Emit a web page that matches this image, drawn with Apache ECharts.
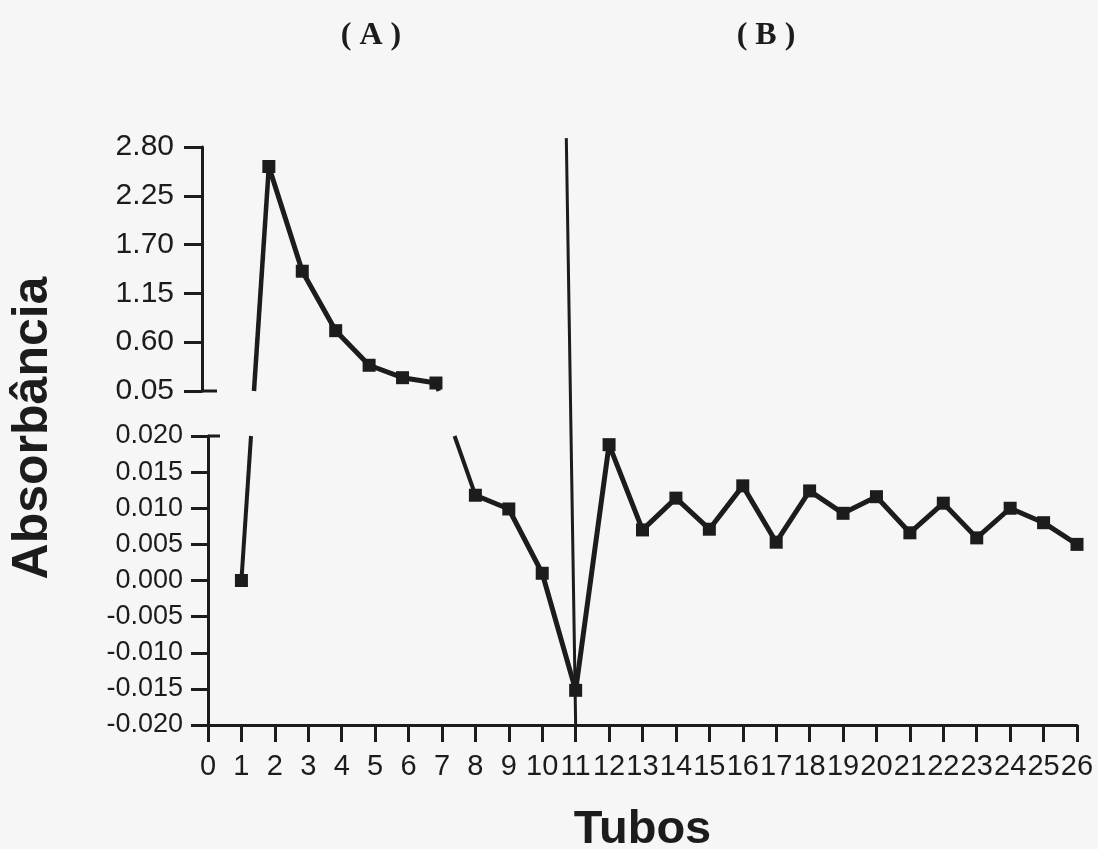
<!DOCTYPE html>
<html>
<head>
<meta charset="utf-8">
<script src="https://cdn.jsdelivr.net/npm/echarts@6/dist/echarts.min.js"></script>
<style>
html,body{margin:0;padding:0;background:#f6f6f6;}
#chart{width:1098px;height:849px;}
</style>
</head>
<body>
<div id="chart"></div>
<script>
// tubos e absorbância
var tubos = [1, 2, 3, 4, 5, 6, 7, 8, 9, 10, 11, 12, 13, 14, 15, 16, 17, 18, 19, 20, 21, 22, 23, 24, 25, 26];
var absorbancia = [0.000, 2.58, 1.40, 0.73, 0.34, 0.20, 0.14, 0.0118, 0.0099, 0.0010, -0.0152, 0.0188,
    0.0070, 0.0114, 0.0071, 0.0131, 0.0053, 0.0124, 0.0093, 0.0116, 0.0066, 0.0107, 0.0059, 0.0100, 0.0080, 0.0050];
var ticksAlto = [0.05, 0.60, 1.15, 1.70, 2.25, 2.80];
var ticksBaixo = [-0.020, -0.015, -0.010, -0.005, 0.000, 0.005, 0.010, 0.015, 0.020];
var ticksX = [0, 26];

var cor = '#1c1c1c';
var fonte = 'Liberation Sans, Arial, sans-serif';
var serifa = 'Liberation Serif, Times New Roman, serif';
var corteAlto = ticksAlto[0];
var corteBaixo = ticksBaixo[ticksBaixo.length - 1];

function pares(alto) {
    return tubos.map(function (t, i) {
        var v = absorbancia[i];
        var ok = alto ? v >= corteAlto : v <= corteBaixo;
        return [t, ok ? v : '-'];
    });
}

var chart = echarts.init(document.getElementById('chart'));
chart.setOption({
    backgroundColor: '#f6f6f6',
    animation: false,
    title: [
        {text: '( A )', left: 366, top: 15, textAlign: 'center',
            textStyle: {fontFamily: serifa, fontSize: 32, fontWeight: 'bold', color: cor}},
        {text: '( B )', left: 761, top: 15, textAlign: 'center',
            textStyle: {fontFamily: serifa, fontSize: 32, fontWeight: 'bold', color: cor}}
    ],
    grid: [
        {left: 202, top: 147, width: 869, height: 244, outerBoundsMode: 'none'},
        {left: 208, top: 436, width: 869, height: 289, outerBoundsMode: 'none'}
    ],
    xAxis: [
        {gridIndex: 0, type: 'value', min: ticksX[0], max: ticksX[1], show: false},
        {
            gridIndex: 1, type: 'value', min: ticksX[0], max: ticksX[1], interval: 1,
            axisLine: {show: true, onZero: false, lineStyle: {color: cor, width: 3}},
            axisTick: {show: true, length: 17, lineStyle: {color: cor, width: 3}},
            axisLabel: {fontFamily: fonte, fontSize: 29, color: cor, margin: 27, hideOverlap: false},
            splitLine: {show: false},
            name: 'Tubos', nameLocation: 'middle', nameGap: 82,
            nameTextStyle: {fontFamily: fonte, fontSize: 47, fontWeight: 'bold', color: cor}
        }
    ],
    yAxis: [
        {
            gridIndex: 0, type: 'value', min: ticksAlto[0], max: ticksAlto[ticksAlto.length - 1],
            interval: +(ticksAlto[1] - ticksAlto[0]).toFixed(4),
            axisLine: {show: true, onZero: false, lineStyle: {color: cor, width: 3}},
            axisTick: {show: true, length: 18, lineStyle: {color: cor, width: 3}},
            axisLabel: {fontFamily: fonte, fontSize: 30, color: cor, margin: 28,
                formatter: function (v) { return v.toFixed(2); }},
            splitLine: {show: false}
        },
        {
            gridIndex: 1, type: 'value', min: ticksBaixo[0], max: corteBaixo,
            interval: +(ticksBaixo[1] - ticksBaixo[0]).toFixed(4),
            axisLine: {show: true, onZero: false, lineStyle: {color: cor, width: 3}},
            axisTick: {show: true, length: 17, lineStyle: {color: cor, width: 3}},
            axisLabel: {fontFamily: fonte, fontSize: 27, color: cor, margin: 25,
                formatter: function (v) { return v.toFixed(3); }},
            splitLine: {show: false}
        }
    ],
    series: [
        {
            type: 'line', xAxisIndex: 0, yAxisIndex: 0, data: pares(true),
            symbol: 'rect', symbolSize: 13, connectNulls: false,
            lineStyle: {color: cor, width: 5}, itemStyle: {color: cor}
        },
        {
            type: 'line', xAxisIndex: 1, yAxisIndex: 1, data: pares(false),
            symbol: 'rect', symbolSize: 13, connectNulls: false,
            lineStyle: {color: cor, width: 5}, itemStyle: {color: cor}
        }
    ]
});

// partes da linha que atravessam a quebra do eixo
var g = [];
var yTopoBaixo = chart.convertToPixel({gridIndex: 1}, [0, corteBaixo])[1];
var yBaseAlto = chart.convertToPixel({gridIndex: 0}, [0, corteAlto])[1];
function px(i) {
    var v = absorbancia[i];
    return chart.convertToPixel({gridIndex: v >= corteAlto ? 0 : 1}, [tubos[i], v]);
}
function linha(a, b, w) {
    g.push({type: 'line', shape: {x1: a[0], y1: a[1], x2: b[0], y2: b[1]},
        style: {stroke: cor, lineWidth: w}, z: 10});
}
for (var i = 0; i < tubos.length - 1; i++) {
    var a = absorbancia[i], b = absorbancia[i + 1];
    var cruza = (a >= corteAlto && b <= corteBaixo) || (a <= corteBaixo && b >= corteAlto);
    if (!cruza) continue;
    var pBaixo = a <= corteBaixo ? px(i) : px(i + 1);
    var pAlto = a >= corteAlto ? px(i) : px(i + 1);
    var xEm = function (y) {
        return pBaixo[0] + (pAlto[0] - pBaixo[0]) * (pBaixo[1] - y) / (pBaixo[1] - pAlto[1]);
    };
    linha(pBaixo, [xEm(yTopoBaixo), yTopoBaixo], 4);
    linha([xEm(yBaseAlto), yBaseAlto], pAlto, 4.5);
}

// marcas da quebra no eixo y
var e1 = chart.convertToPixel({gridIndex: 0}, [0, corteAlto]);
var e2 = chart.convertToPixel({gridIndex: 1}, [0, corteBaixo]);
linha([e1[0], e1[1]], [e1[0] + 15, e1[1]], 3);
linha([e2[0], e2[1]], [e2[0] + 12, e2[1]], 3);

// linha que separa (A) de (B)
var s1 = chart.convertToPixel({gridIndex: 0}, [10.9, 2.90]);
var s2 = chart.convertToPixel({gridIndex: 1}, [11, ticksBaixo[0]]);
linha(s1, s2, 3);

g.push({
    type: 'text', x: 33, y: 428, rotation: Math.PI / 2, z: 10,
    style: {text: 'Absorbância', fontFamily: fonte, fontSize: 50, fontWeight: 'bold',
        fill: cor, align: 'center', verticalAlign: 'middle'}
});
chart.setOption({graphic: g});
</script>
</body>
</html>
